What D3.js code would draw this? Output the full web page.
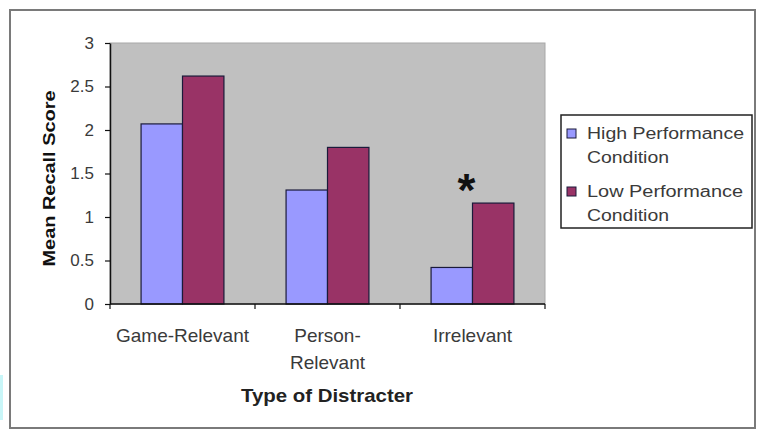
<!DOCTYPE html>
<html>
<head>
<meta charset="utf-8">
<script src="https://cdn.jsdelivr.net/npm/d3@7"></script>
<style>
  html, body { margin: 0; padding: 0; background: #fff; }
  svg { display: block; }
  text { font-family: "Liberation Sans", Arial, sans-serif; }
</style>
</head>
<body>
<svg id="chart" width="757" height="431"></svg>
<script>
// Mean recall by distracter type and performance condition
const categories = ["Game-Relevant", "Person-Relevant", "Irrelevant"];
const categoryLines = [["Game-Relevant"], ["Person-", "Relevant"], ["Irrelevant"]];
const seriesNames = ["High Performance Condition", "Low Performance Condition"];
const legendLines = [["High Performance", "Condition"], ["Low Performance", "Condition"]];
const highPerformance = [2.07, 1.31, 0.42];
const lowPerformance = [2.62, 1.80, 1.16];
const yTicks = [0, 0.5, 1, 1.5, 2, 2.5, 3];
const yTickLabels = ["0", "0.5", "1", "1.5", "2", "2.5", "3"];
const significantCategory = "Irrelevant";

const colors = ["#9999ff", "#993366"];
const svg = d3.select("#chart");

// frame round the whole chart
svg.append("rect").attr("x", 0).attr("y", 375).attr("width", 3).attr("height", 45)
  .attr("fill", "#c8f6f8");
svg.append("rect").attr("x", 10).attr("y", 10).attr("width", 745).attr("height", 418)
  .attr("fill", "#fff").attr("stroke", "#7a7a7a").attr("stroke-width", 2);

const plot = { left: 110, right: 545, top: 43, bottom: 304 };

const x = d3.scaleBand().domain(categories).range([plot.left, plot.right]).padding(0);
const barW = x.bandwidth() / 3.5;
const xs = d3.scaleBand().domain(seriesNames).range([0, 2 * barW]).padding(0);
const y = d3.scaleLinear().domain([0, 3]).range([plot.bottom, plot.top]);

// grey plot area
svg.append("rect")
  .attr("x", plot.left).attr("y", plot.top)
  .attr("width", plot.right - plot.left).attr("height", plot.bottom - plot.top)
  .attr("fill", "#c0c0c0").attr("stroke", "#a8a8a8").attr("stroke-width", 1);

// bars
const rows = categories.map((c, i) => ({ c, vals: [highPerformance[i], lowPerformance[i]] }));
const groups = svg.append("g").selectAll("g").data(rows).join("g")
  .attr("transform", d => `translate(${x(d.c) + 0.75 * barW},0)`);
groups.selectAll("rect")
  .data(d => d.vals.map((v, k) => ({ v, k })))
  .join("rect")
  .attr("x", d => xs(seriesNames[d.k]))
  .attr("y", d => y(d.v))
  .attr("width", xs.bandwidth())
  .attr("height", d => y(0) - y(d.v))
  .attr("fill", d => colors[d.k])
  .attr("stroke", "#1a1a3a").attr("stroke-width", 1.2);

// y axis
const yAxis = svg.append("g")
  .attr("transform", `translate(${plot.left},0)`)
  .call(d3.axisLeft(y).tickValues(yTicks).tickFormat((d, i) => yTickLabels[i])
    .tickSize(5).tickPadding(11).tickSizeOuter(0));
yAxis.select(".domain").attr("stroke", "#111").attr("stroke-width", 1.5);
yAxis.selectAll(".tick line").attr("stroke", "#111").attr("stroke-width", 1.2);
yAxis.selectAll(".tick text")
  .attr("font-size", 17).attr("fill", "#3a3a3a")
  .style("font-family", "'Liberation Sans', Arial, sans-serif");

// x axis with ticks between categories
const xBounds = categories.map(c => x(c)).concat([plot.right]);
svg.append("line")
  .attr("x1", plot.left).attr("x2", plot.right)
  .attr("y1", y(0)).attr("y2", y(0))
  .attr("stroke", "#111").attr("stroke-width", 1.5);
svg.append("g").selectAll("line").data(xBounds).join("line")
  .attr("x1", d => d).attr("x2", d => d)
  .attr("y1", y(0)).attr("y2", y(0) + 5)
  .attr("stroke", "#111").attr("stroke-width", 1.2);

// category labels
const catText = svg.append("g").selectAll("text").data(categories).join("text")
  .attr("x", d => x(d) + x.bandwidth() / 2)
  .attr("y", 342)
  .attr("text-anchor", "middle")
  .attr("font-size", 19).attr("fill", "#3a3a3a");
catText.each(function (d, i) {
  d3.select(this).selectAll("tspan").data(categoryLines[i]).join("tspan")
    .attr("x", x(d) + x.bandwidth() / 2)
    .attr("dy", (t, j) => j === 0 ? 0 : 27)
    .text(t => t);
});

// axis titles
svg.append("text")
  .attr("x", (plot.left + plot.right) / 2 - 0.5).attr("y", 402)
  .attr("text-anchor", "middle")
  .attr("font-size", 19).attr("font-weight", "bold").attr("fill", "#222")
  .attr("textLength", 172).attr("lengthAdjust", "spacingAndGlyphs")
  .text("Type of Distracter");

svg.append("text")
  .attr("transform", `translate(55,${(plot.top + plot.bottom) / 2 + 5}) rotate(-90)`)
  .attr("text-anchor", "middle")
  .attr("font-size", 16).attr("font-weight", "bold").attr("fill", "#111")
  .attr("textLength", 176).attr("lengthAdjust", "spacingAndGlyphs")
  .text("Mean Recall Score");

// significance marker
const sigIdx = categories.indexOf(significantCategory);
svg.append("text")
  .attr("x", x(significantCategory) + x.bandwidth() / 2 - 6)
  .attr("y", y(lowPerformance[sigIdx]) + 3)
  .attr("text-anchor", "middle")
  .attr("font-size", 46).attr("font-weight", "bold").attr("fill", "#111")
  .text("*");

// legend
const legend = svg.append("g");
legend.append("rect")
  .attr("x", 561).attr("y", 115).attr("width", 191).attr("height", 113)
  .attr("fill", "#fff").attr("stroke", "#222").attr("stroke-width", 1.5);
const lineLens = [[157, 82], [156, 82]];
seriesNames.forEach((s, i) => {
  const base = 139 + i * 58;
  legend.append("rect")
    .attr("x", 567).attr("y", base - 10).attr("width", 9).attr("height", 9)
    .attr("fill", colors[i]).attr("stroke", "#1a1a3a").attr("stroke-width", 1);
  legendLines[i].forEach((t, j) => {
    legend.append("text")
      .attr("x", 587).attr("y", base + j * 24)
      .attr("font-size", 16).attr("fill", "#3a3a3a")
      .attr("textLength", lineLens[i][j]).attr("lengthAdjust", "spacingAndGlyphs")
      .text(t);
  });
});
</script>
</body>
</html>
